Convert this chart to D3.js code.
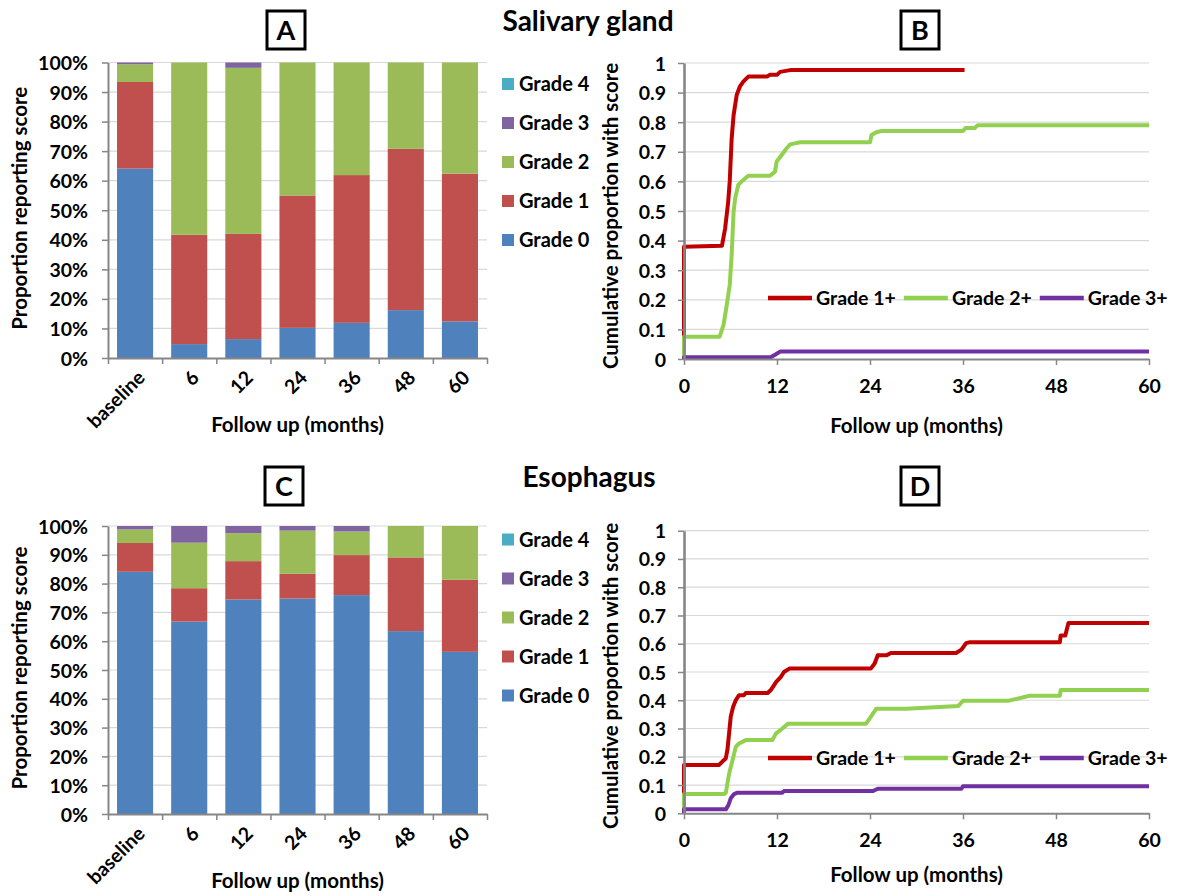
<!DOCTYPE html>
<html>
<head>
<meta charset="utf-8">
<script src="https://cdn.jsdelivr.net/npm/d3@7"></script>
<style>
  body { margin: 0; background: #fff; }
  svg text { font-family: Lato, "Open Sans", sans-serif; font-weight: 700; fill: #000; }
</style>
</head>
<body>
<svg id="chart" width="1177" height="896"></svg>
<script>
// ---------- data ----------
const visits = ["baseline", "6", "12", "24", "36", "48", "60"];
const gradeNames = ["Grade 0", "Grade 1", "Grade 2", "Grade 3", "Grade 4"];
const gradeColors = ["#4F81BD", "#C0504D", "#9BBB59", "#8064A2", "#4BACC6"];
const percentTicks = [0, 10, 20, 30, 40, 50, 60, 70, 80, 90, 100];

// Salivary gland: percent of patients reporting each grade
const salivaryGrade0 = [64.1, 4.7, 6.4, 10.2, 11.9, 16.2, 12.4];
const salivaryGrade1 = [29.3, 37.0, 35.6, 44.8, 50.0, 54.6, 50.0];
const salivaryGrade2 = [6.0, 58.3, 56.2, 45.0, 38.1, 29.2, 37.6];
const salivaryGrade3 = [0.6, 0, 1.8, 0, 0, 0, 0];
const salivaryGrade4 = [0, 0, 0, 0, 0, 0, 0];

// Esophagus: percent of patients reporting each grade
const esophagusGrade0 = [84.1, 66.8, 74.5, 74.8, 76.0, 63.5, 56.3];
const esophagusGrade1 = [10.0, 11.6, 13.3, 8.6, 13.9, 25.6, 25.1];
const esophagusGrade2 = [4.7, 15.8, 9.7, 15.0, 8.2, 10.9, 18.6];
const esophagusGrade3 = [1.2, 5.8, 2.5, 1.6, 1.9, 0, 0];
const esophagusGrade4 = [0, 0, 0, 0, 0, 0, 0];

// Cumulative incidence curves: [month, proportion]
const cumNames = ["Grade 1+", "Grade 2+", "Grade 3+"];
const cumColors = ["#C00000", "#92D050", "#7030A0"];
const monthTicks = [0, 12, 24, 36, 48, 60];
const proportionTicks = [0, 0.1, 0.2, 0.3, 0.4, 0.5, 0.6, 0.7, 0.8, 0.9, 1];

const salivaryCum1 = [[0,0],[0,0.379],[4.9,0.383],[5.3,0.44],[5.7,0.53],[5.9,0.60],[6.15,0.745],[6.4,0.824],[6.8,0.892],[7.2,0.92],[7.65,0.937],[8.3,0.954],[10.7,0.954],[11.1,0.96],[12.0,0.96],[12.4,0.97],[13.7,0.976],[36.2,0.976]];
const salivaryCum2 = [[0,0],[0,0.0755],[4.6,0.0755],[5.1,0.115],[5.45,0.171],[5.9,0.25],[6.15,0.351],[6.4,0.498],[6.6,0.543],[7.0,0.588],[7.65,0.605],[8.3,0.619],[11.1,0.619],[11.74,0.633],[11.96,0.667],[12.6,0.689],[13.25,0.712],[13.7,0.725],[15,0.732],[24,0.732],[24.2,0.757],[24.8,0.766],[25.4,0.77],[36,0.77],[36.3,0.78],[37.5,0.78],[37.9,0.79],[60,0.79]];
const salivaryCum3 = [[0,0],[0,0.006],[11.2,0.006],[11.8,0.015],[12.4,0.025],[60,0.025]];

const esophagusCum1 = [[0,0],[0,0.171],[4.5,0.171],[4.95,0.183],[5.39,0.194],[5.6,0.224],[5.82,0.283],[6.03,0.342],[6.34,0.377],[6.68,0.4],[7.1,0.418],[7.76,0.418],[7.97,0.426],[10.8,0.426],[11.2,0.436],[11.9,0.465],[12.5,0.483],[12.9,0.5],[13.6,0.512],[24.1,0.512],[24.6,0.53],[25.0,0.559],[26.1,0.559],[26.7,0.567],[35.1,0.567],[35.8,0.579],[36.4,0.602],[36.8,0.605],[48.5,0.605],[48.6,0.629],[49.2,0.629],[49.6,0.673],[60,0.673]];
const esophagusCum2 = [[0,0],[0,0.068],[5.2,0.068],[5.4,0.073],[5.82,0.14],[6.25,0.187],[6.68,0.235],[7.1,0.247],[7.97,0.259],[11.4,0.259],[11.85,0.282],[12.7,0.3],[13.4,0.317],[23.5,0.317],[24.1,0.341],[24.8,0.37],[28.7,0.37],[35.4,0.38],[36.0,0.398],[41.8,0.398],[44.6,0.416],[48.5,0.416],[48.6,0.436],[60,0.436]];
const esophagusCum3 = [[0,0],[0,0.014],[5.4,0.014],[5.73,0.029],[6.03,0.053],[6.46,0.068],[6.9,0.073],[12.7,0.073],[12.9,0.079],[24.4,0.079],[25.0,0.087],[35.8,0.087],[36.0,0.096],[60,0.096]];

// ---------- drawing ----------
const svg = d3.select("#chart");
const AXIS = "#868686", GRID = "#D9D9D9";
const TICK_FS = 19.5, TITLE_FS = 20.5, LEG_FS = 20, LINE_LEG_FS = 19.5;

function panelBox(cx, cy, letter) {
  svg.append("rect").attr("x", cx - 19).attr("y", cy - 19).attr("width", 38).attr("height", 38)
    .attr("fill", "#fff").attr("stroke", "#000").attr("stroke-width", 3);
  svg.append("text").attr("x", cx).attr("y", cy).attr("dy", "0.36em")
    .attr("text-anchor", "middle").style("font-size", "27px").text(letter);
}

function barPanel(p, grades) {
  const rows = visits.map((v, i) => {
    const r = { visit: v };
    gradeNames.forEach((g, k) => r[g] = grades[k][i]);
    return r;
  });
  const x = d3.scaleBand().domain(visits).range([p.x0, p.x1]).paddingInner(1 / 3).paddingOuter(1 / 6);
  const y = d3.scaleLinear().domain([0, 100]).range([p.yBot, p.yTop]);
  const g = svg.append("g");

  g.append("g").selectAll("line").data(percentTicks.slice(1)).join("line")
    .attr("x1", p.x0).attr("x2", p.x1).attr("y1", d => y(d)).attr("y2", d => y(d))
    .attr("stroke", GRID).attr("stroke-width", 1.2);

  const stacked = d3.stack().keys(gradeNames)(rows);
  g.append("g").selectAll("g").data(stacked).join("g")
    .attr("fill", (d, i) => gradeColors[i])
    .selectAll("rect").data(d => d).join("rect")
    .attr("x", d => x(d.data.visit)).attr("width", x.bandwidth())
    .attr("y", d => y(d[1])).attr("height", d => Math.max(0, y(d[0]) - y(d[1])));

  // y axis
  const ya = g.append("g").attr("transform", `translate(${p.x0},0)`)
    .call(d3.axisLeft(y).tickValues(percentTicks).tickFormat(d => d + "%").tickSize(6).tickSizeOuter(0).tickPadding(14));
  ya.selectAll("line").attr("stroke", AXIS).attr("stroke-width", 1.5);
  ya.select(".domain").attr("stroke", AXIS).attr("stroke-width", 2);
  ya.selectAll("text").style("font-size", TICK_FS + "px").attr("dy", "0.36em");

  // x axis with ticks between categories
  const bounds = d3.scaleLinear().domain([0, visits.length]).range([p.x0, p.x1]);
  const xa = g.append("g").attr("transform", `translate(0,${p.yBot})`)
    .call(d3.axisBottom(bounds).tickValues(d3.range(visits.length + 1)).tickFormat("").tickSize(6).tickSizeOuter(0));
  xa.selectAll("line").attr("stroke", AXIS).attr("stroke-width", 1.5);
  xa.select(".domain").attr("stroke", AXIS).attr("stroke-width", 2);

  g.append("g").selectAll("text").data(visits).join("text")
    .attr("transform", d => `translate(${x(d) + x.bandwidth() / 2 + 6},${p.yBot + 16}) rotate(-45)`)
    .attr("text-anchor", "end").attr("dy", "0.36em").style("font-size", TICK_FS + "px").text(d => d);

  g.append("text").attr("x", (p.x0 + p.x1) / 2).attr("y", p.yBot + 74)
    .attr("text-anchor", "middle").style("font-size", TITLE_FS + "px").text("Follow up (months)");
  g.append("text").attr("transform", `translate(20,${(p.yTop + p.yBot) / 2 - 2}) rotate(-90)`)
    .attr("text-anchor", "middle").attr("dy", "0.36em").style("font-size", TITLE_FS + "px").text("Proportion reporting score");

  // legend, highest grade on top
  const leg = g.append("g");
  gradeNames.slice().reverse().forEach((name, j) => {
    const k = gradeNames.length - 1 - j;
    const cy = p.legY + j * 39;
    leg.append("rect").attr("x", 502).attr("y", cy - 6).attr("width", 12).attr("height", 12)
      .attr("fill", gradeColors[k]);
    leg.append("text").attr("x", 519).attr("y", cy).attr("dy", "0.36em")
      .style("font-size", LEG_FS + "px").text(name);
  });
}

function linePanel(p, curves) {
  const x = d3.scaleLinear().domain([0, 60]).range([p.x0, p.x1]);
  const y = d3.scaleLinear().domain([0, 1]).range([p.yBot, p.yTop]);
  const g = svg.append("g");

  g.append("g").selectAll("line").data(proportionTicks.slice(1)).join("line")
    .attr("x1", p.x0).attr("x2", p.x1).attr("y1", d => y(d)).attr("y2", d => y(d))
    .attr("stroke", GRID).attr("stroke-width", 1.2);

  const line = d3.line().x(d => x(d[0])).y(d => y(d[1]));
  g.append("g").selectAll("path").data(curves).join("path")
    .attr("d", line).attr("fill", "none")
    .attr("stroke", (d, i) => cumColors[i]).attr("stroke-width", 4)
    .attr("stroke-linejoin", "round");

  const ya = g.append("g").attr("transform", `translate(${p.x0},0)`)
    .call(d3.axisLeft(y).tickValues(proportionTicks)
      .tickFormat(d => (d === 0 || d === 1) ? String(d) : d.toFixed(1))
      .tickSize(6).tickSizeOuter(0).tickPadding(12));
  ya.selectAll("line").attr("stroke", AXIS).attr("stroke-width", 1.5);
  ya.select(".domain").attr("stroke", AXIS).attr("stroke-width", 2.6);
  ya.selectAll("text").style("font-size", TICK_FS + "px").attr("dy", "0.36em");

  const xa = g.append("g").attr("transform", `translate(0,${p.yBot})`)
    .call(d3.axisBottom(x).tickValues(monthTicks).tickSize(6).tickSizeOuter(0).tickPadding(14));
  xa.selectAll("line").attr("stroke", AXIS).attr("stroke-width", 1.5);
  xa.select(".domain").attr("stroke", AXIS).attr("stroke-width", 2);
  xa.selectAll("text").style("font-size", TICK_FS + "px").attr("dy", "0.71em");

  g.append("text").attr("x", (p.x0 + p.x1) / 2).attr("y", p.titleY)
    .attr("text-anchor", "middle").style("font-size", TITLE_FS + "px").text("Follow up (months)");
  g.append("text").attr("transform", `translate(611,${p.labelY}) rotate(-90)`)
    .attr("text-anchor", "middle").attr("dy", "0.36em").style("font-size", TITLE_FS + "px").text("Cumulative proportion with score");

  // horizontal legend
  let lx = 768;
  cumNames.forEach((name, i) => {
    g.append("line").attr("x1", lx).attr("x2", lx + 44).attr("y1", p.legY).attr("y2", p.legY)
      .attr("stroke", cumColors[i]).attr("stroke-width", 4.5);
    const t = g.append("text").attr("x", lx + 48).attr("y", p.legY).attr("dy", "0.36em")
      .style("font-size", LINE_LEG_FS + "px").text(name);
    lx += 48 + t.node().getComputedTextLength() + 8;
  });
}

// titles
svg.append("text").attr("x", 588).attr("y", 31).attr("text-anchor", "middle")
  .style("font-size", "28px").text("Salivary gland");
svg.append("text").attr("x", 589).attr("y", 487).attr("text-anchor", "middle")
  .style("font-size", "28px").text("Esophagus");

barPanel({ x0: 108, x1: 487, yTop: 62.5, yBot: 358, legY: 84 },
  [salivaryGrade0, salivaryGrade1, salivaryGrade2, salivaryGrade3, salivaryGrade4]);
barPanel({ x0: 108, x1: 487, yTop: 526, yBot: 814, legY: 539.5 },
  [esophagusGrade0, esophagusGrade1, esophagusGrade2, esophagusGrade3, esophagusGrade4]);

linePanel({ x0: 684, x1: 1149, yTop: 63, yBot: 359, legY: 298, titleY: 433, labelY: 216 },
  [salivaryCum1, salivaryCum2, salivaryCum3]);
linePanel({ x0: 684, x1: 1149, yTop: 530.7, yBot: 813.3, legY: 758, titleY: 882, labelY: 676 },
  [esophagusCum1, esophagusCum2, esophagusCum3]);

panelBox(286, 30, "A");
panelBox(920, 30, "B");
panelBox(284, 486, "C");
panelBox(920, 486, "D");
</script>
</body>
</html>
